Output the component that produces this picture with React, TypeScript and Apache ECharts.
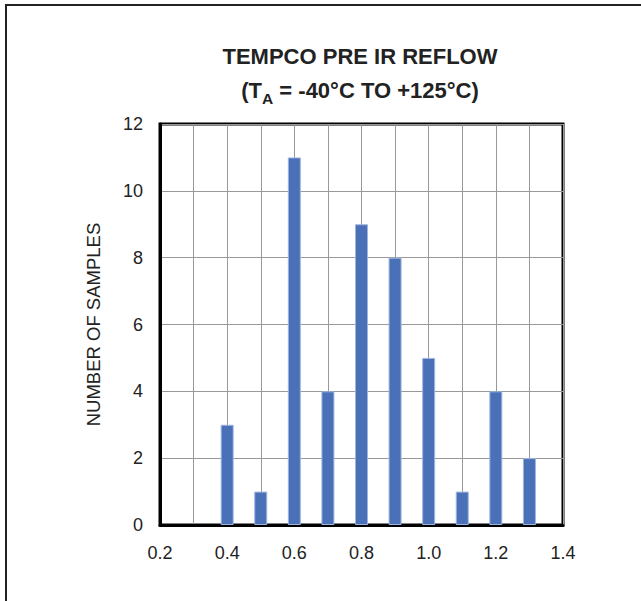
import React, { useEffect, useRef } from "react";
import * as echarts from "echarts";

const tempco: number[] = [0.4, 0.5, 0.6, 0.7, 0.8, 0.9, 1.0, 1.1, 1.2, 1.3];
const samples: number[] = [3, 1, 11, 4, 9, 8, 5, 1, 4, 2];
const titleLine1 = "TEMPCO PRE IR REFLOW";
const yAxisName = "NUMBER OF SAMPLES";

const FONT = "'Liberation Sans', Arial, sans-serif";

export default function App() {
  const ref = useRef<HTMLDivElement>(null);
  useEffect(() => {
    if (!ref.current) return;
    const chart = echarts.init(ref.current, undefined, { renderer: "svg" });
    chart.setOption({
      animation: false,
      backgroundColor: "#fff",
      title: [
        {
          text: titleLine1,
          left: 360,
          textAlign: "center",
          top: 45,
          padding: 0,
          textStyle: { fontFamily: FONT, fontWeight: "bold", fontSize: 22, color: "#222" },
        },
        {
          text: "{a|(T}{sub|A}{a| = -40°C TO +125°C)}",
          left: 360,
          textAlign: "center",
          top: 74,
          padding: 0,
          textStyle: {
            rich: {
              a: { fontFamily: FONT, fontWeight: "bold", fontSize: 22, color: "#222", lineHeight: 22 },
              sub: {
                fontFamily: FONT,
                fontWeight: "bold",
                fontSize: 15.5,
                color: "#222",
                lineHeight: 32,
                verticalAlign: "bottom",
              },
            },
          },
        },
      ],
      graphic: [
        { type: "line", shape: { x1: 5, y1: 5, x2: 641, y2: 5 }, style: { stroke: "#222", lineWidth: 2 } },
        { type: "line", shape: { x1: 6, y1: 4, x2: 6, y2: 601 }, style: { stroke: "#222", lineWidth: 2 } },
      ],
      grid: {
        left: 160,
        right: 78,
        top: 124,
        bottom: 76,
        show: true,
        borderColor: "#000",
        borderWidth: 3,
      },
      xAxis: {
        type: "value",
        min: 0.2,
        max: 1.4,
        interval: 0.1,
        axisLine: { show: true, lineStyle: { color: "#000", width: 3 } },
        axisTick: { show: false },
        axisLabel: {
          margin: 19,
          fontFamily: FONT,
          fontSize: 18,
          color: "#222",
          formatter: (v: number) => (Math.round(v * 10) % 2 === 0 ? v.toFixed(1) : ""),
        },
        splitLine: { show: true, lineStyle: { color: "#999", width: 1 } },
      },
      yAxis: {
        type: "value",
        min: 0,
        max: 12,
        interval: 2,
        name: yAxisName,
        nameLocation: "middle",
        nameRotate: 90,
        nameGap: 57,
        nameTextStyle: { fontFamily: FONT, fontSize: 18.5, color: "#222" },
        axisLine: { show: true, lineStyle: { color: "#000", width: 3 } },
        axisTick: { show: false },
        axisLabel: { margin: 17, fontFamily: FONT, fontSize: 18, color: "#222" },
        splitLine: { show: true, lineStyle: { color: "#999", width: 1 } },
      },
      series: [
        {
          type: "bar",
          barWidth: 13,
          data: tempco.map((t, i) => [t, samples[i]]),
          itemStyle: { color: "#4A70B8", borderColor: "#9fb5e0", borderWidth: 1 },
        },
      ],
    });
    return () => chart.dispose();
  }, []);
  return (
    <div
      ref={ref}
      style={{ position: "fixed", left: 0, top: 0, width: 641, height: 601 }}
    />
  );
}
